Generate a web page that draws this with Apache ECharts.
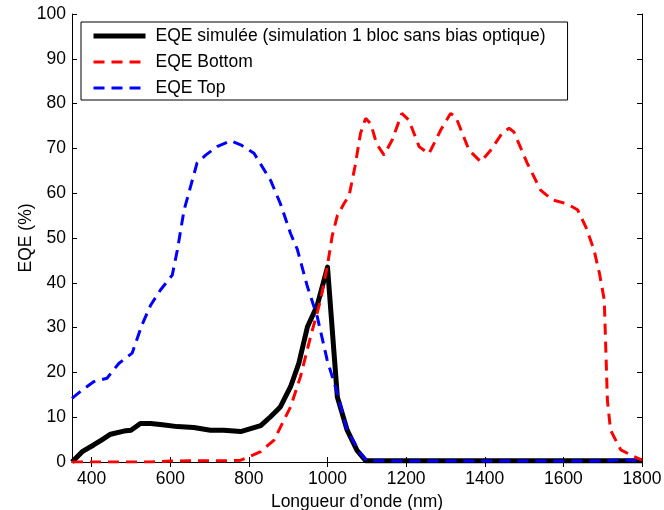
<!DOCTYPE html>
<html>
<head>
<meta charset="utf-8">
<script src="https://cdn.jsdelivr.net/npm/echarts@6/dist/echarts.min.js"></script>
<style>
  html, body { margin: 0; padding: 0; background: #fff; }
  #chart { width: 664px; height: 510px; }
</style>
</head>
<body>
<div id="chart"></div>
<script>
  // EQE simulée (courbe noire)
  const lambdaSim = [350, 376, 405, 425, 448, 482, 500, 524, 550, 580, 618, 660, 702, 736, 779, 830, 855, 880, 906, 927, 949, 974, 1000, 1025, 1050, 1075, 1097, 1200, 1300, 1400, 1500, 1600, 1700, 1750, 1800];
  const eqeSim = [0, 2.3, 3.8, 4.9, 6.2, 6.9, 7.1, 8.6, 8.6, 8.3, 7.9, 7.7, 7.1, 7.1, 6.8, 8.1, 10.1, 12.3, 16.8, 22, 30.2, 35, 43.5, 14.5, 7.1, 2.6, 0.3, 0.3, 0.3, 0.3, 0.3, 0.3, 0.3, 0.3, 0.3];

  // EQE Bottom (rouge)
  const lambdaBottom = [350, 400, 450, 500, 550, 600, 650, 700, 750, 779, 830, 864, 906, 931, 957, 982, 1000, 1012, 1025, 1042, 1055, 1070, 1084, 1097, 1110, 1125, 1144, 1165, 1189, 1207, 1233, 1258, 1288, 1313, 1326, 1360, 1390, 1415, 1445, 1462, 1474, 1508, 1542, 1572, 1610, 1636, 1657, 1678, 1692, 1704, 1708, 1712, 1720, 1746, 1780, 1800];
  const eqeBottom = [0, 0, 0, 0, 0, 0.2, 0.3, 0.3, 0.3, 0.4, 2.3, 4.9, 12.3, 19, 28, 36, 44, 50.5, 55, 57.7, 59.5, 66, 73.4, 76.7, 75.5, 71, 68.5, 72, 77.8, 76.3, 70.4, 68.8, 74.1, 77.8, 77.1, 69.6, 67, 69.6, 73.5, 74.5, 73.7, 66.7, 60.7, 58.5, 57.6, 56.3, 52.5, 47.3, 42, 36.2, 25, 13.8, 7.1, 2.7, 1.2, 0.4];

  // EQE Top (bleu)
  const lambdaTop = [350, 375, 405, 439, 469, 503, 528, 550, 575, 605, 618, 635, 668, 690, 719, 753, 779, 813, 855, 880, 906, 923, 949, 974, 999, 1025, 1050, 1084, 1100, 1200, 1300, 1400, 1500, 1600, 1700, 1750, 1800];
  const eqeTop = [14.2, 16, 17.9, 18.7, 22, 24.3, 30.6, 35, 38.4, 41.7, 47.3, 56.2, 66.7, 68.5, 70.4, 71.7, 70.8, 68.9, 62.9, 57.7, 51, 47.5, 39.1, 32.4, 22.8, 15.3, 7.1, 1.9, 0.3, 0.2, 0.2, 0.2, 0.2, 0.2, 0.2, 0.5, 0.3];

  const xTicks = [400, 600, 800, 1000, 1200, 1400, 1600, 1800];

  const paires = (xs, ys) => xs.map((x, i) => [x, ys[i]]);

  const police = 'Liberation Sans, Arial, sans-serif';
  const taille = 17.5;
  const axeNoir = { lineStyle: { color: '#000', width: 1 } };
  const sansVirgule = v => String(v);

  const chart = echarts.init(document.getElementById('chart'), null, { renderer: 'canvas' });

  chart.setOption({
    animation: false,
    backgroundColor: '#fff',
    grid: { left: 72, right: 22, top: 14, bottom: 48, outerBoundsMode: 'none', containLabel: false },
    legend: {
      orient: 'vertical',
      left: 81,
      top: 22,
      padding: [5, 22, 3, 10],
      itemGap: 8,
      itemWidth: 52,
      itemHeight: 14,
      borderColor: '#000',
      borderWidth: 1,
      backgroundColor: '#fff',
      itemStyle: { opacity: 0 },
      textStyle: { fontFamily: police, fontSize: taille, color: '#000', padding: [0, 0, 0, 5] },
      data: [
        { name: 'EQE simulée (simulation 1 bloc sans bias optique)', lineStyle: { width: 5 } },
        { name: 'EQE Bottom', lineStyle: { width: 3 } },
        { name: 'EQE Top', lineStyle: { width: 3 } }
      ]
    },
    xAxis: [
      {
        type: 'value', min: 350, max: 1800,
        name: 'Longueur d\u2019onde (nm)', nameLocation: 'middle', nameGap: 23,
        nameTextStyle: { fontFamily: police, fontSize: taille, color: '#000' },
        axisLine: axeNoir,
        axisTick: { inside: true, length: 5, customValues: xTicks, lineStyle: { color: '#000' } },
        axisLabel: { customValues: xTicks, formatter: sansVirgule, fontFamily: police, fontSize: taille, color: '#000', margin: 8 },
        splitLine: { show: false }
      },
      {
        type: 'value', min: 350, max: 1800, position: 'top',
        axisLine: axeNoir,
        axisTick: { inside: true, length: 5, customValues: xTicks, lineStyle: { color: '#000' } },
        axisLabel: { show: false },
        splitLine: { show: false }
      }
    ],
    yAxis: [
      {
        type: 'value', min: 0, max: 100, interval: 10,
        name: 'EQE (%)', nameLocation: 'middle', nameGap: 37, nameRotate: 90, nameMoveOverlap: false,
        nameTextStyle: { fontFamily: police, fontSize: taille, color: '#000' },
        axisLine: { show: true, lineStyle: { color: '#000', width: 1 } },
        axisTick: { show: true, inside: true, length: 5, lineStyle: { color: '#000' } },
        axisLabel: { fontFamily: police, fontSize: taille, color: '#000', margin: 6 },
        splitLine: { show: false }
      },
      {
        type: 'value', min: 0, max: 100, interval: 10, position: 'right',
        axisLine: { show: true, lineStyle: { color: '#000', width: 1 } },
        axisTick: { show: true, inside: true, length: 5, lineStyle: { color: '#000' } },
        axisLabel: { show: false },
        splitLine: { show: false }
      }
    ],
    series: [
      {
        name: 'EQE simulée (simulation 1 bloc sans bias optique)',
        type: 'line', symbol: 'none', z: 3,
        data: paires(lambdaSim, eqeSim),
        lineStyle: { color: '#000', width: 5, join: 'round' },
        itemStyle: { color: '#000' }
      },
      {
        name: 'EQE Bottom',
        type: 'line', symbol: 'none', z: 4,
        data: paires(lambdaBottom, eqeBottom),
        lineStyle: { color: '#ff0000', width: 3, type: [11, 7] },
        itemStyle: { color: '#ff0000' }
      },
      {
        name: 'EQE Top',
        type: 'line', symbol: 'none', z: 5,
        data: paires(lambdaTop, eqeTop),
        lineStyle: { color: '#0000ff', width: 3, type: [11, 7] },
        itemStyle: { color: '#0000ff' }
      }
    ]
  });
</script>
</body>
</html>
